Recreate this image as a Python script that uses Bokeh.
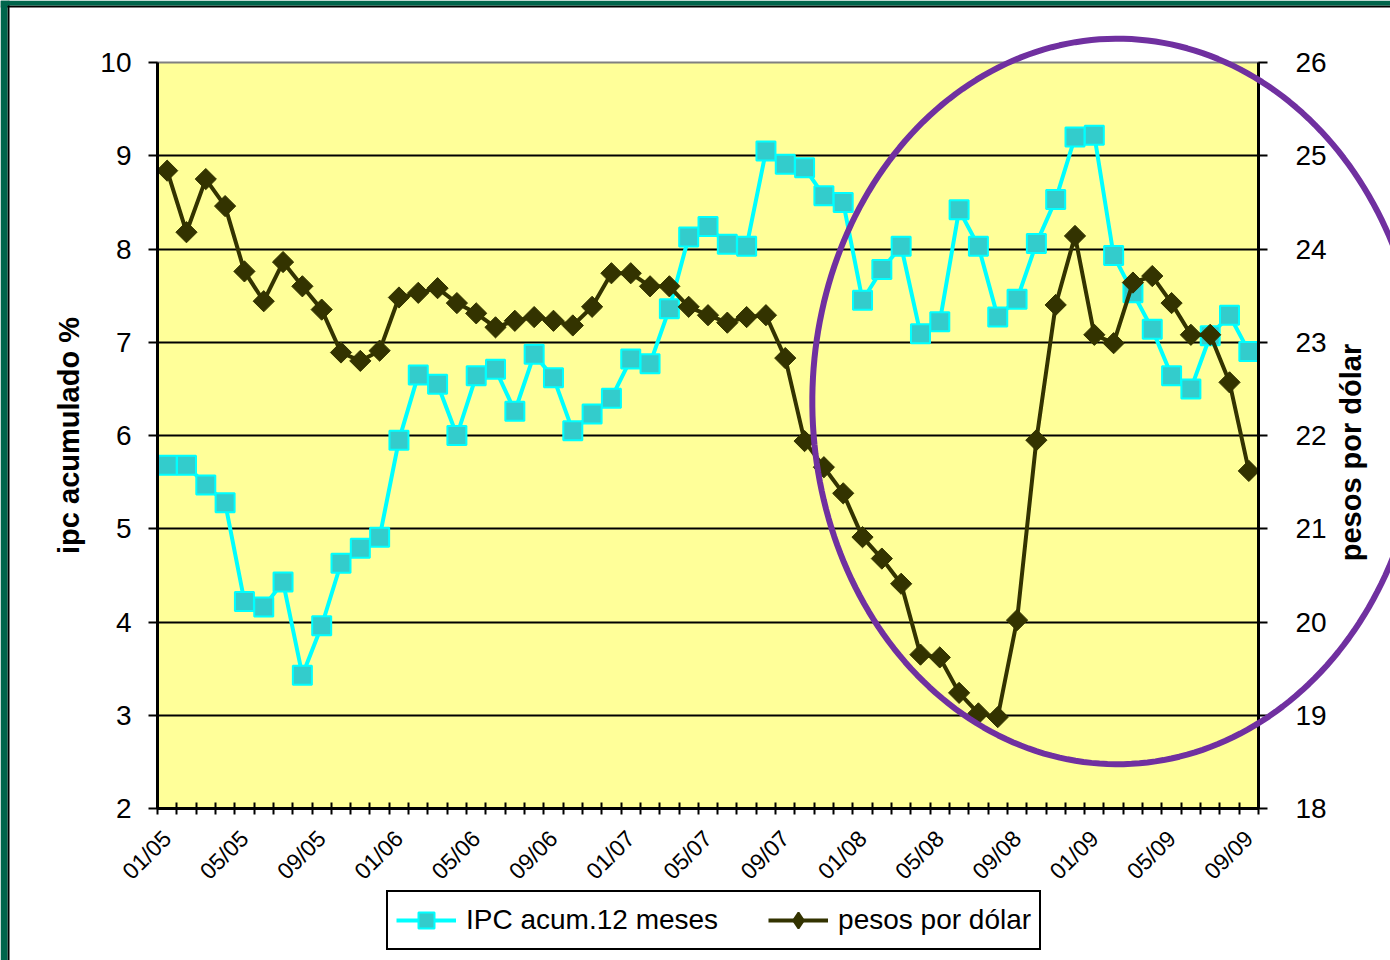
import numpy as np
from bokeh.plotting import figure
from bokeh.models import (Range1d, LinearAxis, FixedTicker, PolyAnnotation, Legend,
                          LegendItem, BoxAnnotation, Span, Label)
from bokeh.embed import file_html
from bokeh.resources import INLINE

# ---- data ----
months = [f"{m:02d}/{y:02d}" for y in range(5, 10) for m in range(1, 13)][:57]
tick_step = 4

ipc = [5.68, 5.68, 5.47, 5.28, 4.22, 4.16, 4.43, 3.43, 3.96, 4.63, 4.79, 4.91,
       5.95, 6.65, 6.55, 6.00, 6.64, 6.71, 6.26, 6.87, 6.62, 6.05, 6.23, 6.40,
       6.82, 6.77, 7.36, 8.13, 8.24, 8.05, 8.03, 9.05, 8.91, 8.87, 8.57, 8.50,
       7.45, 7.78, 8.03, 7.09, 7.22, 8.42, 8.03, 7.27, 7.46, 8.06, 8.53, 9.20,
       9.22, 7.93, 7.53, 7.14, 6.64, 6.50, 7.07, 7.29, 6.90]

pesos = [24.84, 24.18, 24.75, 24.46, 23.76, 23.44, 23.86, 23.60, 23.35, 22.89, 22.80, 22.91,
         23.48, 23.53, 23.58, 23.42, 23.31, 23.16, 23.23, 23.27, 23.23, 23.18, 23.38, 23.74,
         23.74, 23.60, 23.60, 23.38, 23.29, 23.21, 23.27, 23.29, 22.83, 21.94, 21.66, 21.38,
         20.91, 20.68, 20.41, 19.65, 19.62, 19.24, 19.02, 18.98, 20.02, 21.95, 23.40, 24.14,
         23.08, 22.99, 23.64, 23.71, 23.42, 23.08, 23.08, 22.57, 21.62]

left_ticks = list(range(2, 11))
right_ticks = list(range(18, 27))
series_names = ["IPC acum.12 meses", "pesos por dólar"]
left_title = "ipc acumulado %"
right_title = "pesos por dólar"

# highlight ellipse (in left-axis data units)
ell_cx, ell_cy, ell_rx, ell_ry = 49.2, 6.365, 15.8, 3.89

# ---- layout constants ----
W, H = 1390, 960
BL, BR, BT, BB = 157, 132, 62, 152
FONT = "Liberation Sans"
GREEN = "#00654B"
IPC_LINE, IPC_FILL = "#00FFFF", "#33CCCC"
USD_COL = "#333300"

x = list(range(len(months)))
x0, x1 = -0.5, len(months) - 0.5
y0, y1 = left_ticks[0], left_ticks[-1]

p = figure(width=W, height=H, output_backend="svg", toolbar_location=None,
           x_range=Range1d(x0, x1), y_range=Range1d(y0, y1),
           min_border_left=BL, min_border_right=BR, min_border_top=BT, min_border_bottom=BB)
p.extra_y_ranges = {"usd": Range1d(right_ticks[0], right_ticks[-1])}
p.background_fill_color = "#FFFF99"
p.border_fill_color = "white"
p.outline_line_color = "#808080"
p.outline_line_width = 2

# x axis
xa = p.xaxis[0]
xa.ticker = FixedTicker(ticks=x[::tick_step], minor_ticks=[i - 0.5 for i in range(len(months) + 1)])
xa.major_label_overrides = {i: months[i] for i in x[::tick_step]}
xa.major_label_orientation = np.pi / 4
xa.major_tick_in = 0
xa.major_tick_out = 0
xa.minor_tick_in = 6
xa.minor_tick_out = 6
xa.minor_tick_line_color = "black"
xa.minor_tick_line_width = 2
xa.axis_line_width = 3
xa.axis_line_color = "black"
xa.major_label_standoff = 20
xa.major_label_text_font = FONT
xa.major_label_text_font_size = "23px"
xa.major_label_text_color = "black"
p.xgrid.visible = False

# left axis
ya = p.yaxis[0]
ya.ticker = FixedTicker(ticks=left_ticks)
ya.minor_tick_line_color = None
ya.major_tick_in = 0
ya.major_tick_out = 9
ya.major_tick_line_width = 2
ya.major_tick_line_color = "black"
ya.axis_line_width = 3
ya.axis_line_color = "black"
ya.major_label_standoff = 17
ya.major_label_text_font = FONT
ya.major_label_text_font_size = "28px"
ya.major_label_text_color = "black"
ya.axis_label = left_title
ya.axis_label_text_font = FONT
ya.axis_label_text_font_size = "29px"
ya.axis_label_text_font_style = "bold"
ya.axis_label_text_color = "black"
ya.axis_label_standoff = 12

p.ygrid.ticker = FixedTicker(ticks=left_ticks)
p.ygrid.grid_line_color = "black"
p.ygrid.grid_line_width = 2

# right axis (its title is drawn on the overlay so it reads bottom-to-top)
ra = LinearAxis(y_range_name="usd", ticker=FixedTicker(ticks=right_ticks))
ra.minor_tick_line_color = None
ra.major_tick_in = 0
ra.major_tick_out = 9
ra.major_tick_line_width = 2
ra.major_tick_line_color = "black"
ra.axis_line_width = 3
ra.axis_line_color = "black"
ra.major_label_standoff = 28
ra.major_label_text_font = FONT
ra.major_label_text_font_size = "28px"
ra.major_label_text_color = "black"
p.add_layout(ra, "right")

# series
p.line(x, ipc, line_color=IPC_LINE, line_width=4)
p.scatter(x, ipc, marker="square", size=19, fill_color=IPC_FILL, line_color=IPC_LINE, line_width=2)
p.line(x, pesos, y_range_name="usd", line_color=USD_COL, line_width=4)
p.scatter(x, pesos, y_range_name="usd", marker="square", angle=np.pi / 4, size=15,
          fill_color=USD_COL, line_color=USD_COL, line_width=1)

# ---- transparent overlay: same data units, frame covering the whole canvas ----
fw, fh = W - BL - BR, H - BT - BB
pxx, pxy = fw / (x1 - x0), fh / (y1 - y0)
ox0, ox1 = x0 - BL / pxx, x1 + BR / pxx
oy0, oy1 = y0 - BB / pxy, y1 + BT / pxy

q = figure(width=W, height=H, output_backend="svg", toolbar_location=None,
           x_range=Range1d(ox0, ox1), y_range=Range1d(oy0, oy1),
           x_axis_type=None, y_axis_type=None, min_border=0)
q.background_fill_alpha = 0
q.border_fill_alpha = 0
q.outline_line_color = None
q.styles = {"position": "absolute", "top": "0px", "left": "0px", "pointer-events": "none"}

# page border (green band with a thin black edge) on the top and left
q.add_layout(Span(location=ox0 + 8 / pxx, dimension="height", line_color="black", line_width=2))
q.add_layout(Span(location=oy1 - 6 / pxy, dimension="width", line_color="black", line_width=2))
q.add_layout(BoxAnnotation(right=ox0 + 7 / pxx, fill_color=GREEN, fill_alpha=1, line_color=None))
q.add_layout(BoxAnnotation(bottom=oy1 - 5 / pxy, fill_color=GREEN, fill_alpha=1, line_color=None))

# right axis title, reading bottom-to-top like the left one
q.add_layout(Label(x=x1 + 92 / pxx, y=y0 + 356 / pxy, text=right_title, angle=np.pi / 2,
                   text_align="center", text_baseline="middle", text_font=FONT,
                   text_font_size="29px", text_font_style="bold", text_color="black"))

# legend (drawn on the overlay so it can sit below the plot area); proxies hold no visible data
nan = [float("nan")]
lg1 = q.line(nan, nan, line_color=IPC_LINE, line_width=4)
sg1 = q.scatter(nan, nan, marker="square", size=19, fill_color=IPC_FILL, line_color=IPC_LINE, line_width=2)
lg2 = q.line(nan, nan, line_color=USD_COL, line_width=4)
sg2 = q.scatter(nan, nan, marker="diamond", size=15, fill_color=USD_COL,
                line_color=USD_COL, line_width=2)
legend = Legend(items=[LegendItem(label=series_names[0], renderers=[lg1, sg1], index=0),
                       LegendItem(label=series_names[1], renderers=[lg2, sg2], index=0)],
                orientation="horizontal", location=(386, 10),
                border_line_color="black", border_line_width=2, border_line_alpha=1,
                background_fill_color="white", background_fill_alpha=1,
                label_text_font=FONT, label_text_font_size="28px",
                label_text_color="black", glyph_width=60, glyph_height=40, label_standoff=10,
                spacing=50, padding=8, margin=0)
q.add_layout(legend)

theta = np.linspace(0, 2 * np.pi, 240)
ell = PolyAnnotation(xs=(ell_cx + ell_rx * np.cos(theta)).tolist(),
                     ys=(ell_cy + ell_ry * np.sin(theta)).tolist(),
                     fill_alpha=0, line_color="#7030A0", line_alpha=1, line_width=6)
q.add_layout(ell)

html = file_html([p, q], INLINE, title="ipc y pesos por dolar")
open("out.html", "w").write(html)
